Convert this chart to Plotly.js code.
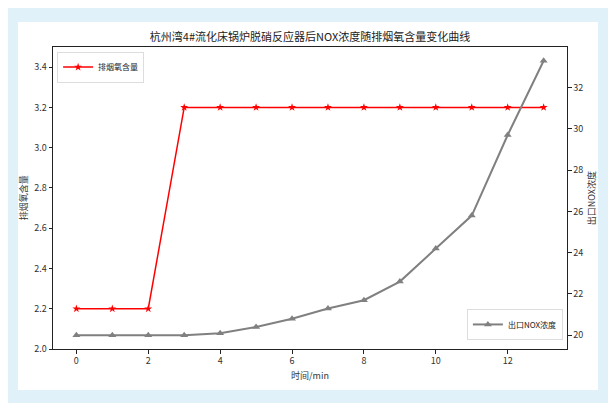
<!DOCTYPE html>
<html>
<head>
<meta charset="utf-8">
<script src="https://cdn.plot.ly/plotly-3.0.1.min.js"></script>
<style>
html,body{margin:0;padding:0;background:#ffffff;width:616px;height:412px;overflow:hidden;}
#frame{position:absolute;left:8px;top:8px;width:600px;height:395px;background:#e1f1f9;}
#chart{position:absolute;left:10px;top:14px;width:580px;height:368px;background:#ffffff;}
</style>
</head>
<body>
<div id="frame"><div id="chart"></div></div>
<script>
var timeMin = [0,1,2,3,4,5,6,7,8,9,10,11,12,13];
var oxygen = [2.2,2.2,2.2,3.2,3.2,3.2,3.2,3.2,3.2,3.2,3.2,3.2,3.2,3.2];
var noxConc = [20.0,20.0,20.0,20.0,20.1,20.4,20.8,21.3,21.7,22.6,24.2,25.8,29.7,33.3];
var xTicks = [0,2,4,6,8,10,12];
var yTicks = [2.0,2.2,2.4,2.6,2.8,3.0,3.2,3.4];
var y2Ticks = [20,22,24,26,28,30,32];
var leftTitle = '排烟氧含量';
var rightTitle = '出口NOX浓度';

var cjk = "Noto Sans CJK SC, sans-serif";
var tickFont = {family: cjk, size: 9, color: '#333333'};
var labelFont = {family: cjk, size: 9, color: '#333333'};

var traces = [
  {x: timeMin, y: oxygen, name: leftTitle, type: 'scatter', mode: 'lines+markers',
   line: {color: '#ff0000', width: 1.5}, marker: {symbol: 'star', size: 6, color: '#ff0000'},
   yaxis: 'y', legend: 'legend'},
  {x: timeMin, y: noxConc, name: rightTitle, type: 'scatter', mode: 'lines+markers',
   line: {color: '#808080', width: 2}, marker: {symbol: 'triangle-up', size: 7, color: '#808080'},
   yaxis: 'y2', legend: 'legend2'}
];

var layout = {
  width: 580, height: 368,
  margin: {l: 35, r: 31, t: 25, b: 41},
  paper_bgcolor: '#ffffff', plot_bgcolor: '#ffffff',
  title: {text: '杭州湾4#流化床锅炉脱硝反应器后NOX浓度随排烟氧含量变化曲线',
          font: {family: cjk, size: 11, color: '#222222'}, x: 0.5, xref: 'paper', xanchor: 'center',
          y: 0.96, yref: 'container', yanchor: 'middle'},
  xaxis: {range: [-0.65, 13.65], tickvals: xTicks, ticktext: xTicks.map(String),
          showgrid: false, zeroline: false, showline: true, mirror: true, linecolor: '#222222', linewidth: 1,
          ticks: 'outside', ticklen: 3.5, tickcolor: '#222222', tickfont: tickFont,
          title: {text: '时间/min', font: labelFont, standoff: 6}},
  yaxis: {range: [2.0, 3.5], tickvals: yTicks, ticktext: yTicks.map(function(v){return v.toFixed(1);}),
          showgrid: false, zeroline: false, showline: true, linecolor: '#222222', linewidth: 1,
          ticks: 'outside', ticklen: 3.5, tickcolor: '#222222', tickfont: tickFont},
  yaxis2: {overlaying: 'y', side: 'right', range: [19.335, 33.965], tickvals: y2Ticks, ticktext: y2Ticks.map(String),
          showgrid: false, zeroline: false, showline: true, linecolor: '#222222', linewidth: 1,
          ticks: 'outside', ticklen: 3.5, tickcolor: '#222222', tickfont: tickFont},
  annotations: [
    {text: leftTitle, xref: 'paper', yref: 'paper', x: -0.058, y: 0.5, textangle: -90,
     showarrow: false, xanchor: 'center', yanchor: 'middle', font: labelFont},
    {text: rightTitle, xref: 'paper', yref: 'paper', x: 1.047, y: 0.5, textangle: -90,
     showarrow: false, xanchor: 'center', yanchor: 'middle', font: labelFont}
  ],
  legend: {x: 0.008, y: 0.985, xanchor: 'left', yanchor: 'top', bgcolor: '#ffffff',
           bordercolor: '#dddddd', borderwidth: 1, font: {family: cjk, size: 8, color: '#222222'},
           itemwidth: 30},
  legend2: {x: 0.992, y: 0.03, xanchor: 'right', yanchor: 'bottom', bgcolor: '#ffffff',
           bordercolor: '#dddddd', borderwidth: 1, font: {family: cjk, size: 8, color: '#222222'},
           itemwidth: 30},
  showlegend: true
};

Plotly.newPlot('chart', traces, layout, {displayModeBar: false, staticPlot: true});
</script>
</body>
</html>
